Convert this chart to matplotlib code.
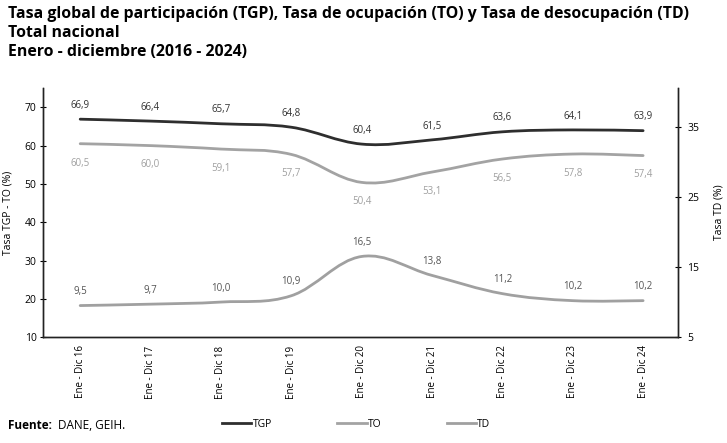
import matplotlib.pyplot as plt
from matplotlib.path import Path
from matplotlib.patches import PathPatch
from matplotlib.lines import Line2D
import numpy as np

plt.rcParams['font.family'] = ['Open Sans', 'DejaVu Sans']

periodos = ['Ene - Dic 16', 'Ene - Dic 17', 'Ene - Dic 18', 'Ene - Dic 19', 'Ene - Dic 20',
            'Ene - Dic 21', 'Ene - Dic 22', 'Ene - Dic 23', 'Ene - Dic 24']
tgp = [66.9, 66.4, 65.7, 64.8, 60.4, 61.5, 63.6, 64.1, 63.9]
to = [60.5, 60.0, 59.1, 57.7, 50.4, 53.1, 56.5, 57.8, 57.4]
td = [9.5, 9.7, 10.0, 10.9, 16.5, 13.8, 11.2, 10.2, 10.2]

c_tgp = '#2e2e2e'
c_to = '#a3a3a3'
c_td = '#a0a0a0'


def smooth_path(xs, ys, k=0.18):
    # Excel-like smoothed line: Catmull-Rom control points as cubic beziers
    pts = list(zip(xs, ys))
    verts = [pts[0]]
    codes = [Path.MOVETO]
    n = len(pts)
    for i in range(n - 1):
        p0 = pts[max(i - 1, 0)]
        p1 = pts[i]
        p2 = pts[i + 1]
        p3 = pts[min(i + 2, n - 1)]
        c1 = (p1[0] + (p2[0] - p0[0]) * k, p1[1] + (p2[1] - p0[1]) * k)
        c2 = (p2[0] - (p3[0] - p1[0]) * k, p2[1] - (p3[1] - p1[1]) * k)
        verts += [c1, c2, p2]
        codes += [Path.CURVE4] * 3
    return Path(verts, codes)


fig = plt.figure(figsize=(7.27, 4.43), dpi=100)
ax = fig.add_axes([0.059, 0.239, 0.874, 0.562])
ax2 = ax.twinx()

x = np.arange(len(periodos))
ax.add_patch(PathPatch(smooth_path(x, tgp), fill=False, edgecolor=c_tgp, lw=2.0, capstyle='round'))
ax.add_patch(PathPatch(smooth_path(x, to), fill=False, edgecolor=c_to, lw=2.0, capstyle='round'))
ax2.add_patch(PathPatch(smooth_path(x, td), fill=False, edgecolor=c_td, lw=2.0, capstyle='round'))

fmt = lambda v: f'{v:.1f}'.replace('.', ',')
for i in range(len(x)):
    ax.annotate(fmt(tgp[i]), (x[i], tgp[i]), xytext=(0, 6), textcoords='offset points',
                ha='center', va='bottom', fontsize=7, color='#333333')
    ax.annotate(fmt(to[i]), (x[i], to[i]), xytext=(0, -10), textcoords='offset points',
                ha='center', va='top', fontsize=7, color='#a0a0a0')
    ax2.annotate(fmt(td[i]), (x[i], td[i]), xytext=(0, 6), textcoords='offset points',
                 ha='center', va='bottom', fontsize=7, color='#555555')

ax.set_xlim(-0.53, 8.5)
ax.set_ylim(10, 75)
ax2.set_ylim(5, 40.5)
ax.set_yticks([10, 20, 30, 40, 50, 60, 70])
ax2.set_yticks([5, 15, 25, 35])
ax.set_xticks(x)
ax.set_xticklabels(periodos, rotation=90, fontsize=7)
ax.tick_params(axis='x', length=0, pad=6)
ax.tick_params(axis='y', labelsize=7.5, direction='inout', length=5, pad=2)
ax2.tick_params(axis='y', labelsize=7.5, direction='inout', length=5, pad=4)

for a in (ax, ax2):
    a.spines['top'].set_visible(False)
    for s in ('left', 'right', 'bottom'):
        a.spines[s].set_color('#222222')
        a.spines[s].set_linewidth(1.0)

ax.set_ylabel('Tasa TGP - TO (%)', fontsize=7.5, labelpad=8)
ax2.set_ylabel('Tasa TD (%)', fontsize=7.5, labelpad=10)

fig.text(0.011, 0.968, 'Tasa global de participación (TGP), Tasa de ocupación (TO) y Tasa de desocupación (TD)',
         fontsize=11.4, fontweight='bold', va='center')
fig.text(0.011, 0.925, 'Total nacional', fontsize=11.4, fontweight='bold', va='center')
fig.text(0.011, 0.882, 'Enero - diciembre (2016 - 2024)', fontsize=11.4, fontweight='bold', va='center')

fig.text(0.011, 0.04, 'Fuente:', fontsize=8.5, fontweight='bold', va='center')
fig.text(0.080, 0.04, 'DANE, GEIH.', fontsize=8.5, va='center')

handles = [Line2D([], [], color=c_tgp, lw=2), Line2D([], [], color=c_to, lw=2),
           Line2D([], [], color=c_td, lw=2)]
fig.legend(handles, ['TGP', 'TO', 'TD'], loc='center', bbox_to_anchor=(0.49, 0.042), ncol=3,
           frameon=False, fontsize=7.5, handlelength=2.8, handletextpad=0.1, columnspacing=6.3)

fig.savefig('out.png', dpi=100)
